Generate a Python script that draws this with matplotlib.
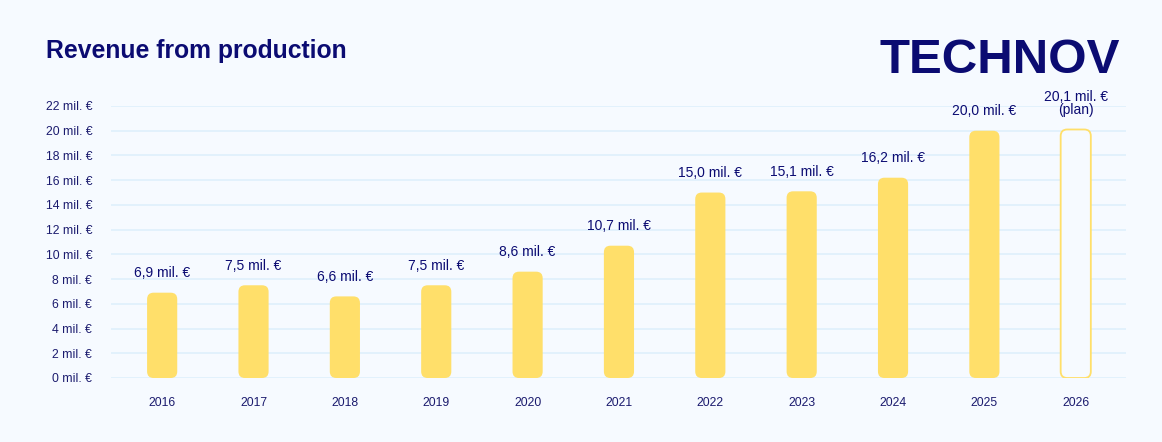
import matplotlib
matplotlib.use("Agg")
import matplotlib.pyplot as plt
from matplotlib.patches import FancyBboxPatch

years = ["2016", "2017", "2018", "2019", "2020", "2021", "2022", "2023", "2024", "2025", "2026"]
values = [6.9, 7.5, 6.6, 7.5, 8.6, 10.7, 15.0, 15.1, 16.2, 20.0, 20.1]
labels = ["6,9 mil. €", "7,5 mil. €", "6,6 mil. €", "7,5 mil. €", "8,6 mil. €", "10,7 mil. €",
          "15,0 mil. €", "15,1 mil. €", "16,2 mil. €", "20,0 mil. €", "20,1 mil. €\n(plan)"]
planned = [False] * 10 + [True]
yticks = list(range(0, 23, 2))
ytick_labels = [f"{t} mil. €" for t in yticks]

NAVY = "#0B0B72"
TEXT = "#1B1B6E"
YELLOW = "#FFDF6A"
BG = "#F6FAFF"
GRID = "#E0F1FC"

W, H = 1162, 442
fig = plt.figure(figsize=(W / 100, H / 100), dpi=100, facecolor=BG)

ax = fig.add_axes([111 / W, (H - 378) / H, (1126 - 111) / W, (378 - 106) / H])
ax.set_facecolor("none")
ax.set_xlim(-0.56, 10.55)
ax.set_ylim(0, 22)
for s in ax.spines.values():
    s.set_visible(False)
ax.set_yticks(yticks)
ax.set_yticklabels(ytick_labels)
ax.set_xticks(range(len(years)))
ax.set_xticklabels(years)
ax.tick_params(axis="y", length=0, pad=13.5, labelsize=8.8, labelcolor=TEXT)
ax.tick_params(axis="x", length=0, pad=14, labelsize=8.8, labelcolor=TEXT)
for lab in ax.get_yticklabels() + ax.get_xticklabels():
    lab.set_family("Liberation Sans")
ax.grid(axis="y", color=GRID, linewidth=1.3, zorder=0)
ax.set_axisbelow(True)

bars = ax.bar(range(len(years)), values, width=0.33, color="none")
fig.canvas.draw()
# convert pixel radius into data units
px_x = ax.transData.transform((1, 0))[0] - ax.transData.transform((0, 0))[0]
px_y = ax.transData.transform((0, 1))[1] - ax.transData.transform((0, 0))[1]
aspect = px_x / px_y
r = 6.5 / px_x
for b, p in zip(bars, planned):
    x, y, w, h = b.get_x(), b.get_y(), b.get_width(), b.get_height()
    if p:
        patch = FancyBboxPatch((x, y), w, h, boxstyle=f"round,pad=0,rounding_size={r}",
                               mutation_aspect=aspect, facecolor=BG, edgecolor=YELLOW,
                               linewidth=1.3, zorder=3)
    else:
        patch = FancyBboxPatch((x, y), w, h, boxstyle=f"round,pad=0,rounding_size={r}",
                               mutation_aspect=aspect, facecolor=YELLOW, edgecolor="none", zorder=3)
    ax.add_patch(patch)
    b.remove()

for i, (v, lab) in enumerate(zip(values, labels)):
    ax.annotate(lab, (i, v), xytext=(0, 9), textcoords="offset points", ha="center", va="bottom",
                fontsize=10, color=NAVY, family="Liberation Sans", linespacing=0.95)

fig.text(46 / W, 1 - 58 / H, "Revenue from production", fontsize=17.8, fontweight="bold",
         color=NAVY, family="Liberation Sans", ha="left", va="baseline")
fig.text(1120 / W, 1 - 73 / H, "TECHNOV", fontsize=35.5, fontweight="bold", color=NAVY,
         family="Liberation Sans", ha="right", va="baseline")

fig.savefig("out.png", dpi=100, facecolor=fig.get_facecolor())
